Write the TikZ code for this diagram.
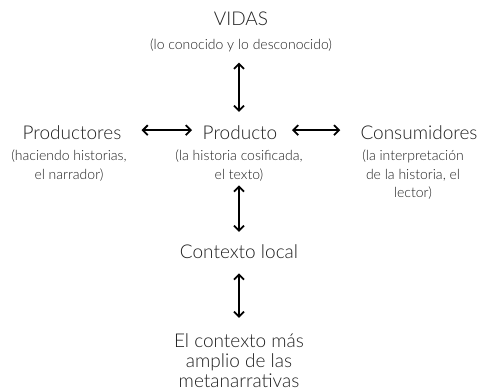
\documentclass[tikz,border=0pt]{standalone}
\usepackage{fontspec}
\setmainfont{Lato}[UprightFont=* Light]
\usetikzlibrary{arrows.meta}
\begin{document}
\begin{tikzpicture}[x=1pt,y=-1pt,
  head/.style={inner sep=0pt,text=black!88,font=\fontsize{19}{20}\selectfont,align=center},
  sub/.style={inner sep=0pt,text=black!88,font=\fontsize{14}{18.5}\selectfont,align=center},
  arr/.style={line width=1.8pt,{Straight Barb[length=5pt,width=10pt]}-{Straight Barb[length=5pt,width=10pt]}}]
\useasboundingbox (0,0) rectangle (480,391);
\node[head,anchor=base] (vidas) at (241,25) {VIDAS};
\node[sub,anchor=base] (vidassub) at (241,49) {(lo conocido y lo desconocido)};
\node[head,anchor=base] (prodres) at (72,139) {Productores};
\node[sub,anchor=north] (prodressub) at (69,150) {(haciendo historias,\\el narrador)};
\node[head,anchor=base] (prodto) at (240,139) {Producto};
\node[sub,anchor=north] (prodtosub) at (239,150) {(la historia cosificada,\\el texto)};
\node[head,anchor=base] (cons) at (419,139) {Consumidores};
\node[sub,anchor=north] (conssub) at (413,150) {(la interpretación\\de la historia, el\\lector)};
\node[head,anchor=base] (ctx) at (239,258) {Contexto local};
\node[head,anchor=base] (meta) at (239,387) {El contexto más\\amplio de las\\metanarrativas};
\draw[arr,shorten <=11pt,shorten >=13pt] (vidassub.south -| ctx) -- (prodto.north -| ctx);
\draw[arr,shorten <=20pt,shorten >=10.5pt] ([yshift=2pt]prodres.east) -- ([yshift=2pt]prodto.west);
\draw[arr,shorten <=14.5pt,shorten >=20pt] ([yshift=2pt]prodto.east) -- ([yshift=2pt]cons.west);
\draw[arr,shorten <=4pt,shorten >=12pt] (prodtosub.south -| ctx) -- (ctx.north);
\draw[arr,shorten <=15pt,shorten >=15pt] (ctx.south) -- (meta.north);
\end{tikzpicture}
\end{document}
